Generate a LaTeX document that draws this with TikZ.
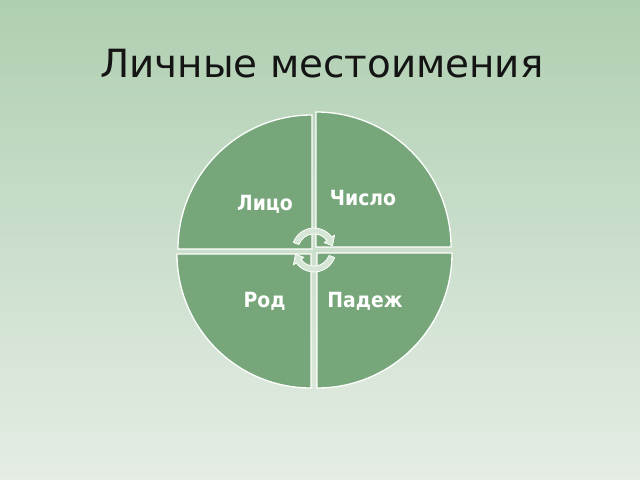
\documentclass[tikz,border=0pt]{standalone}
\usepackage{fontspec}
\setmainfont{DejaVu Sans}
\newfontfamily\lblfont{DejaVu Sans Condensed}
\usetikzlibrary{calc}
\definecolor{bgtop}{RGB}{175,207,177}
\definecolor{bgbot}{RGB}{229,237,229}
\definecolor{quad}{RGB}{118,166,122}
\definecolor{arrowfill}{RGB}{214,230,214}
\tikzset{
  quadrant/.style={fill=quad, draw=white, line width=1.3},
  lbl/.style={text=white, font=\lblfont\fontsize{21}{24}\selectfont\bfseries, anchor=base, inner sep=0},
  cyc/.style={fill=arrowfill, draw=white, line width=0.8, line join=round},
}
\begin{document}
\begin{tikzpicture}[x=1bp,y=1bp]
\useasboundingbox (0,0) rectangle (640,480);
\shade[top color=bgtop, bottom color=bgbot] (0,0) rectangle (640,480);
\node[font=\fontsize{39}{44}\selectfont, text={rgb,255:red,20;green,20;blue,20}, anchor=base, inner sep=0] (title) at (322,402) {Личные местоимения};
% quadrants
\draw[quadrant] (312,231) coordinate (tlc) -- ++(-134,0) arc[start angle=180,end angle=90,radius=134] -- cycle;
\draw[quadrant] (316,233) coordinate (trc) -- ++(0,135) arc[start angle=90,end angle=0,radius=135] -- cycle;
\draw[quadrant] (311,226) coordinate (blc) -- ++(-134,0) arc[start angle=180,end angle=270,radius=134] -- cycle;
\draw[quadrant] (317,227) coordinate (brc) -- ++(135,0) arc[start angle=0,end angle=-90,radius=135] -- cycle;
% labels
\node[lbl] (lico) at (265,269) {Лицо};
\node[lbl] (chislo) at (363,274) {Число};
\node[lbl] (rod) at (264.5,172) {Род};
\node[lbl] (padezh) at (365,172) {Падеж};
% cycle arrows
\coordinate (c) at (314,230);
\draw[cyc] ($(c)+(160:22)$) arc[start angle=160,end angle=36,radius=22]
  -- ($(c)+(36:25.5)$) -- ($(c)+(13:19)$) -- ($(c)+(36:12.5)$)
  -- ($(c)+(36:16)$) arc[start angle=36,end angle=160,radius=16] -- cycle;
\draw[cyc] ($(c)+(-20:22)$) arc[start angle=-20,end angle=-144,radius=22]
  -- ($(c)+(-144:25.5)$) -- ($(c)+(-167:19)$) -- ($(c)+(-144:12.5)$)
  -- ($(c)+(-144:16)$) arc[start angle=-144,end angle=-20,radius=16] -- cycle;
\end{tikzpicture}
\end{document}
